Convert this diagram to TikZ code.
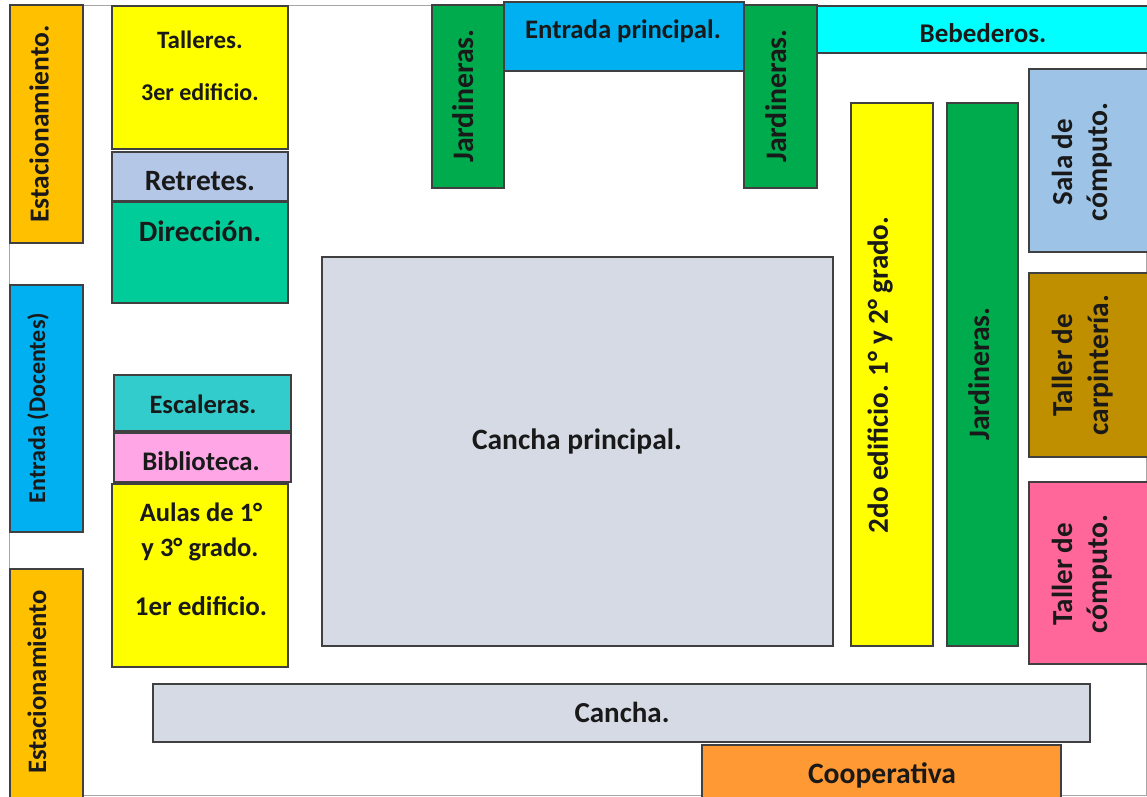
\documentclass[tikz,border=0pt]{standalone}
\usepackage{fontspec}
\setmainfont{Carlito}
\definecolor{cOrange}{HTML}{FFC000}
\definecolor{cBlue}{HTML}{00B0F0}
\definecolor{cGreen}{HTML}{00AB4E}
\definecolor{cYellow}{HTML}{FFFF00}
\definecolor{cPeri}{HTML}{B4C7E7}
\definecolor{cTeal}{HTML}{00CC99}
\definecolor{cStair}{HTML}{33CCCC}
\definecolor{cPink}{HTML}{FFA7E6}
\definecolor{cGrey}{HTML}{D5DAE4}
\definecolor{cCoop}{HTML}{FF9933}
\definecolor{cCyan}{HTML}{00FFFF}
\definecolor{cSala}{HTML}{9DC3E6}
\definecolor{cCarp}{HTML}{BF8F00}
\definecolor{cRose}{HTML}{FF6699}
\definecolor{cEdge}{HTML}{404040}
\tikzset{
  room/.style={draw=cEdge,line width=1.7pt},
  lab/.style={font=\bfseries\fontsize{#1}{#1}\selectfont,text=black!90,inner sep=0pt,align=center},
  vlab/.style={lab=#1,rotate=90},
}
\newcommand{\room}[6]{\draw[room,fill=#6] (#2,#3) rectangle (#4,#5) coordinate (#1);}
\begin{document}
\begin{tikzpicture}[x=1pt,y=-1pt]
\useasboundingbox (0,0) rectangle (1147,796);
\fill[white] (0,0) rectangle (1147,796);
\draw[gray!70,line width=1.4pt] (9.5,5.5) rectangle (1146.5,795.5);
\room{r1}{10}{5}{83}{243}{cOrange}
\room{r2}{112}{6}{288}{149}{cYellow}
\room{r3}{112}{152}{288}{201}{cPeri}
\room{r4}{112}{202}{288}{303}{cTeal}
\room{r5}{10}{285}{83}{532}{cBlue}
\room{r6}{114}{375}{291}{431}{cStair}
\room{r7}{114}{433}{291}{482}{cPink}
\room{r8}{112}{484}{288}{667}{cYellow}
\room{r9}{10}{569}{83}{800}{cOrange}
\room{r10}{322}{257}{833}{646}{cGrey}
\room{r11}{702}{745}{1061}{800}{cCoop}
\room{r12}{153}{684}{1090}{742}{cGrey}
\room{r13}{851}{103}{933}{646}{cYellow}
\room{r14}{947}{103}{1018}{646}{cGreen}
\room{r15}{1029}{69}{1150}{252}{cSala}
\room{r16}{1029}{273}{1150}{457}{cCarp}
\room{r17}{1029}{482}{1150}{664}{cRose}
\room{r18}{817}{6}{1150}{53}{cCyan}
\room{r19}{504}{2}{744}{71}{cBlue}
\room{r20}{432}{5}{504}{188}{cGreen}
\room{r21}{744}{5}{817}{188}{cGreen}
\node[vlab=27.5] (t1) at (39,124) {Estacionamiento.};
\node[lab=25] (t2) at (200,40) {Talleres.};
\node[lab=24] (t3) at (200,92) {3er edificio.};
\node[lab=29.5] (t4) at (200,181) {Retretes.};
\node[lab=29.5] (t5) at (200,231) {Dirección.};
\node[vlab=24] (t6) at (38,408) {Entrada (Docentes)};
\node[lab=26.5] (t7) at (203,404) {Escaleras.};
\node[lab=26.8] (t8) at (201,461) {Biblioteca.};
\node[lab=26.5] (t9) at (201,512) {Aulas de 1°};
\node[lab=26.5] (t10) at (200,549) {y 3° grado.};
\node[lab=27] (t11) at (201,606) {1er edificio.};
\node[vlab=26.6] (t12) at (37,682) {Estacionamiento};
\node[lab=29.5] (t13) at (577,441) {Cancha principal.};
\node[lab=29] (t14) at (622,712) {Cancha.};
\node[lab=29.6] (t15) at (882,775) {Cooperativa};
\node[vlab=29] (t16) at (880,375) {2do edificio. 1° y 2° grado.};
\node[vlab=29.7] (t17) at (979,374) {Jardineras.};
\node[vlab=29] (t18) at (1062,162) {Sala de};
\node[vlab=29.7] (t19) at (1100,162) {cómputo.};
\node[vlab=29] (t20) at (1062,365) {Taller de};
\node[vlab=29.5] (t21) at (1100,365) {carpintería.};
\node[vlab=29] (t22) at (1062,574) {Taller de};
\node[vlab=29.7] (t23) at (1100,574) {cómputo.};
\node[lab=27] (t24) at (983,33) {Bebederos.};
\node[lab=26.7] (t25) at (623,31) {Entrada principal.};
\node[vlab=29.8] (t26) at (463,96) {Jardineras.};
\node[vlab=29.8] (t27) at (776,96) {Jardineras.};
\end{tikzpicture}
\end{document}
